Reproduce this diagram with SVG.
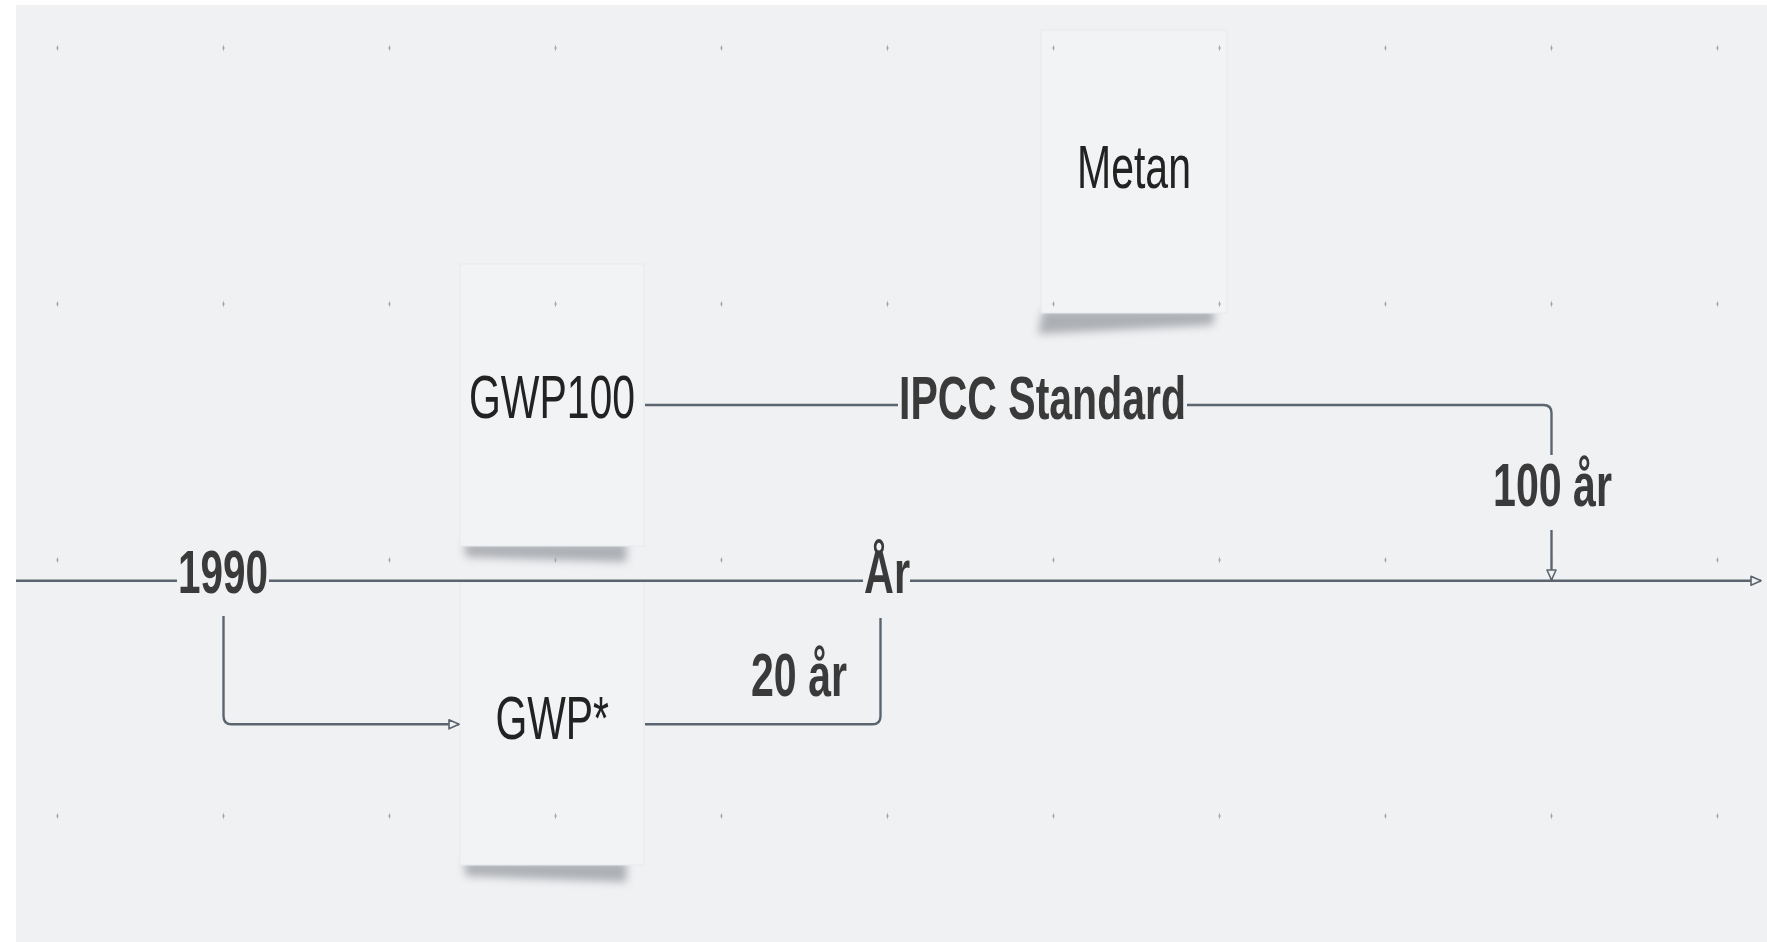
<svg xmlns="http://www.w3.org/2000/svg" xmlns:xlink="http://www.w3.org/1999/xlink" width="1767" height="942" viewBox="0 0 1767 942">
<style>
.bg{fill:#f0f1f3}
.box{fill:#f2f3f5;stroke:#e8e9ec;stroke-width:1}
.shadow{fill:#80848a;opacity:.6;filter:url(#blur)}
.dot{stroke:#a3a8ae;stroke-width:1;fill:none}
.ln{fill:none;stroke:#5b6570;stroke-width:2.4}
.node{font-family:"Liberation Sans",Arial,sans-serif;font-size:62px;fill:#222222}
.lbl{font-family:"Liberation Sans",Arial,sans-serif;font-size:62px;font-weight:bold;fill:#3a3a3a}
</style>
<defs>
<filter id="blur" x="-20%" y="-150%" width="140%" height="400%"><feGaussianBlur stdDeviation="4"/></filter>
<path id="d" class="dot" d="M-1.5,0h3M0,-2.5v5"/>
<marker id="arr" markerUnits="userSpaceOnUse" viewBox="0 0 12 12" markerWidth="12" markerHeight="12" refX="11" refY="6" orient="auto">
<path d="M1,1.5 L11,6 L1,10.5 Z" fill="#f0f1f3" stroke="#5b6570" stroke-width="1.6" stroke-linejoin="round"/>
</marker>
</defs>
<rect x="0" y="0" width="1767" height="942" fill="#ffffff"/>
<rect class="bg" x="16" y="5" width="1751" height="937"/>

<g id="node-metan">
<polygon class="shadow" points="1043,310 1215,310 1213,325 1038,334"/>
<rect class="box" x="1041" y="30" width="186" height="283"/>
</g>
<g id="node-gwp100">
<polygon class="shadow" points="464,543 627,543 626,562 466,557"/>
<rect class="box" x="460" y="264" width="184" height="282"/>
</g>
<g id="node-gwpstar">
<polygon class="shadow" points="464,862 627,862 626,882 466,876"/>
<rect class="box" x="460" y="582" width="184" height="283"/>
</g>

<g id="grid">
<use xlink:href="#d" x="57.5" y="48"/><use xlink:href="#d" x="223.5" y="48"/><use xlink:href="#d" x="389.5" y="48"/><use xlink:href="#d" x="555.5" y="48"/><use xlink:href="#d" x="721.5" y="48"/><use xlink:href="#d" x="887.5" y="48"/><use xlink:href="#d" x="1053.5" y="48"/><use xlink:href="#d" x="1219.5" y="48"/><use xlink:href="#d" x="1385.5" y="48"/><use xlink:href="#d" x="1551.5" y="48"/><use xlink:href="#d" x="1717.5" y="48"/>
<use xlink:href="#d" x="57.5" y="304"/><use xlink:href="#d" x="223.5" y="304"/><use xlink:href="#d" x="389.5" y="304"/><use xlink:href="#d" x="555.5" y="304"/><use xlink:href="#d" x="721.5" y="304"/><use xlink:href="#d" x="887.5" y="304"/><use xlink:href="#d" x="1053.5" y="304"/><use xlink:href="#d" x="1219.5" y="304"/><use xlink:href="#d" x="1385.5" y="304"/><use xlink:href="#d" x="1551.5" y="304"/><use xlink:href="#d" x="1717.5" y="304"/>
<use xlink:href="#d" x="57.5" y="560"/><use xlink:href="#d" x="389.5" y="560"/><use xlink:href="#d" x="555.5" y="560"/><use xlink:href="#d" x="721.5" y="560"/><use xlink:href="#d" x="1053.5" y="560"/><use xlink:href="#d" x="1219.5" y="560"/><use xlink:href="#d" x="1385.5" y="560"/><use xlink:href="#d" x="1551.5" y="560"/><use xlink:href="#d" x="1717.5" y="560"/>
<use xlink:href="#d" x="57.5" y="816"/><use xlink:href="#d" x="223.5" y="816"/><use xlink:href="#d" x="389.5" y="816"/><use xlink:href="#d" x="555.5" y="816"/><use xlink:href="#d" x="721.5" y="816"/><use xlink:href="#d" x="887.5" y="816"/><use xlink:href="#d" x="1053.5" y="816"/><use xlink:href="#d" x="1219.5" y="816"/><use xlink:href="#d" x="1385.5" y="816"/><use xlink:href="#d" x="1551.5" y="816"/><use xlink:href="#d" x="1717.5" y="816"/>
</g>

<g id="connectors">
<path class="ln" d="M16,580.7 H177"/>
<path class="ln" d="M269,580.7 H863"/>
<path class="ln" d="M910,580.7 H1761" marker-end="url(#arr)"/>
<path class="ln" d="M645,405 H898"/>
<path class="ln" d="M1187,405 H1543.5 Q1551.5,405 1551.5,413 V455"/>
<path class="ln" d="M1551.5,530 V580" marker-end="url(#arr)"/>
<path class="ln" d="M223.5,616 V716 Q223.5,724.3 231.5,724.3 H459" marker-end="url(#arr)"/>
<path class="ln" d="M645,724.3 H872.5 Q880.5,724.3 880.5,716.3 V618"/>
<text class="lbl" x="899" y="419" textLength="287" lengthAdjust="spacingAndGlyphs">IPCC Standard</text>
<text class="lbl" x="1493" y="505.5" textLength="119" lengthAdjust="spacingAndGlyphs">100 år</text>
<text class="lbl" x="178" y="592.5" textLength="90" lengthAdjust="spacingAndGlyphs">1990</text>
<text class="lbl" x="864" y="593" textLength="46" lengthAdjust="spacingAndGlyphs">År</text>
<text class="lbl" x="751" y="696" textLength="96" lengthAdjust="spacingAndGlyphs">20 år</text>
</g>

<g id="node-texts">
<text class="node" x="1077" y="188" textLength="114" lengthAdjust="spacingAndGlyphs">Metan</text>
<text class="node" x="469" y="418" textLength="166" lengthAdjust="spacingAndGlyphs">GWP100</text>
<text class="node" x="495.5" y="739" textLength="113.5" lengthAdjust="spacingAndGlyphs">GWP*</text>
</g>
</svg>
